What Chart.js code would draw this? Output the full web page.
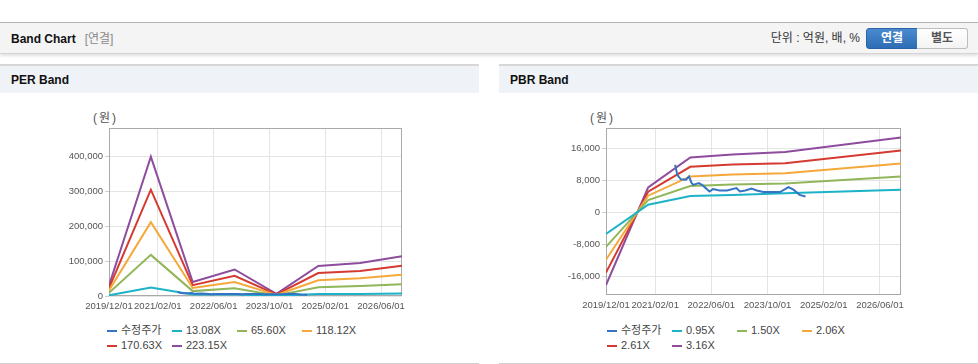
<!DOCTYPE html>
<html lang="ko">
<head>
<meta charset="utf-8">
<title>Band Chart</title>
<script src="https://cdn.jsdelivr.net/npm/chart.js@4.4.1/dist/chart.umd.min.js"></script>
<style>
  html, body { margin: 0; padding: 0; background: #fff; }
  body { width: 978px; height: 364px; position: relative; overflow: hidden;
         font-family: "Liberation Sans", "Noto Sans CJK KR", sans-serif; color: #333; }
  .top { position: absolute; left: 0; top: 22px; width: 978px; height: 30px; background: #f4f4f4;
         border-top: 1px solid #b4b4b4; border-bottom: 1px solid #d4d4d4; box-shadow: 0 2px 3px rgba(0,0,0,0.12); }
  .top .title { position: absolute; left: 11px; top: 1px; line-height: 30px; font-size: 12px; font-weight: bold; color: #111; }
  .top .title span { color: #8a8a8a; font-weight: normal; margin-left: 9px; }
  .top .unit { position: absolute; right: 118px; top: 0; line-height: 30px; font-size: 12px; color: #333; }
  .btn { position: absolute; top: 5px; width: 50px; height: 19px; line-height: 19px; text-align: center;
         font-size: 12px; font-weight: bold; box-sizing: content-box; }
  .btn.on { left: 866px; background: linear-gradient(#4a8ad0, #2d6db5); border: 1px solid #2a62a6;
            color: #fff; border-radius: 3px 0 0 3px; }
  .btn.off { left: 917px; background: linear-gradient(#fff, #f3f3f3); border: 1px solid #bdbdbd; border-left: none;
             color: #555; border-radius: 0 3px 3px 0; }
  .panel { position: absolute; top: 64px; width: 479px; height: 297px;
           border-top: 2px solid #d6d6d6; border-bottom: 1px solid #d0d0d0; }
  .panel .head { height: 27px; line-height: 29px; background: #eff2f6; padding-left: 11px;
                 font-size: 12px; font-weight: bold; color: #111; }
  .ylab { position: absolute; top: 111px; font-size: 12px; line-height: 14px; color: #555; letter-spacing: 2px; }
  .box { position: absolute; top: 100px; width: 479px; height: 215px; }
  .legend { position: absolute; top: 323px; width: 270px; font-size: 11px; line-height: 15px; color: #444; }
  .legend div { display: inline-block; width: 65px; white-space: nowrap; }
  .legend i { display: inline-block; width: 10px; height: 2px; margin-right: 4px; vertical-align: middle; }
</style>
</head>
<body>
<div class="top">
  <div class="title">Band Chart<span>[연결]</span></div>
  <div class="unit">단위 : 억원, 배, %</div>
  <div class="btn on">연결</div>
  <div class="btn off">별도</div>
</div>

<div class="panel" style="left:0"><div class="head">PER Band</div></div>
<div class="panel" style="left:499px"><div class="head">PBR Band</div></div>

<div class="ylab" style="left:93px">(원)</div>
<div class="ylab" style="left:590px">(원)</div>

<div class="box" style="left:0"><canvas id="per" width="479" height="215"></canvas></div>
<div class="box" style="left:499px"><canvas id="pbr" width="479" height="215"></canvas></div>

<div class="legend" id="perLegend" style="left:107px"></div>
<div class="legend" id="pbrLegend" style="left:607px"></div>

<script>
// x axis: months counted from 2019/12
const xTickLabels = ['2019/12/01', '2021/02/01', '2022/06/01', '2023/10/01', '2025/02/01', '2026/06/01'];
const xStart = '2019/12/01';
const xEnd = '2026/12/01';

// 수정주가 (adjusted price)
const priceDates = ['2021/07/22', '2021/08/10', '2021/09/10', '2021/10/25', '2021/11/20', '2021/12/10',
  '2021/12/25', '2022/02/15', '2022/03/20', '2022/05/15', '2022/06/15', '2022/08/10', '2022/10/15',
  '2023/01/05', '2023/02/05', '2023/03/20', '2023/05/15', '2023/06/28', '2023/08/25', '2024/01/18',
  '2024/03/30', '2024/05/12', '2024/07/05', '2024/08/25'];
const priceValues = [11800, 9300, 8200, 8100, 8900, 7400, 6800, 7250, 6600, 5150, 5750, 5400, 5400,
  6000, 5150, 5400, 5900, 5400, 5000, 5000, 6250, 5600, 4300, 3900];

// PER band
const perLabels = ['13.08X', '65.60X', '118.12X', '170.63X', '223.15X'];
const perDates = ['2019/12/01', '2020/12/01', '2021/12/01', '2022/12/01', '2023/12/01', '2024/12/01', '2025/12/01', '2026/12/01'];
const per1308 = [2000, 24000, 4000, 4500, 400, 6000, 6000, 7000];
const per6560 = [9000, 118000, 14000, 22000, 1800, 25000, 29000, 34000];
const per11812 = [16000, 212000, 23000, 40000, 3200, 45000, 51000, 61000];
const per17063 = [23000, 305000, 31000, 58000, 4500, 66000, 72000, 87000];
const per22315 = [30000, 400000, 40000, 76000, 6000, 86000, 95000, 114000];
const perTicks = [0, 100000, 200000, 300000, 400000];

// PBR band
const pbrLabels = ['0.95X', '1.50X', '2.06X', '2.61X', '3.16X'];
const pbrDates = ['2019/12/01', '2020/12/01', '2021/12/01', '2022/12/01', '2024/03/01', '2026/12/01'];
const pbr095 = [-5450, 1850, 4000, 4300, 4700, 5600];
const pbr150 = [-8700, 3000, 6500, 6900, 7150, 8900];
const pbr206 = [-11900, 4100, 8900, 9400, 9700, 12150];
const pbr261 = [-15100, 5100, 11300, 11900, 12200, 15400];
const pbr316 = [-18200, 6150, 13650, 14400, 15000, 18650];
const pbrTicks = [-16000, -8000, 0, 8000, 16000];

const colors = ['#3574c4', '#1cb2c8', '#91b65a', '#f5a83a', '#d43a30', '#8d4c9d'];
const gridColor = '#e4e4e4';

function month(d) {
  const [y, m, day] = d.split('/').map(Number);
  return (y - 2019) * 12 + (m - 12) + (day - 1) / 30;
}
function pts(dates, values) {
  return dates.map((d, i) => ({ x: month(d), y: values[i] }));
}

const plotFrame = {
  id: 'plotFrame',
  beforeDatasetsDraw(chart) {
    const { ctx, chartArea: a } = chart;
    ctx.save();
    ctx.strokeStyle = '#a9a9a9';
    ctx.lineWidth = 1;
    ctx.strokeRect(a.left + 0.5, a.top + 0.5, a.right - a.left - 1, a.bottom - a.top - 1);
    ctx.restore();
  }
};

function bandChart(id, series, labels, yTicks, yMin, yMax, yWidth, xHeight) {
  const names = ['수정주가'].concat(labels);
  const datasets = series.map((s, i) => ({
    label: names[i], data: s, borderColor: colors[i], backgroundColor: colors[i],
    borderWidth: 2, pointRadius: 0, pointHoverRadius: 0, tension: 0, fill: false
  }));
  const xPos = xTickLabels.map(month);
  const tickFont = { family: '"Liberation Sans", sans-serif', size: 9.5 };
  return new Chart(document.getElementById(id), {
    type: 'line',
    data: { datasets },
    options: {
      responsive: false,
      animation: false,
      devicePixelRatio: 1,
      layout: { padding: { top: 28, right: 77, left: 0, bottom: 0 } },
      plugins: { legend: { display: false }, tooltip: { enabled: false } },
      scales: {
        x: {
          type: 'linear', min: month(xStart), max: month(xEnd),
          afterBuildTicks: s => { s.ticks = xPos.map(v => ({ value: v })); },
          afterFit: s => { s.height = xHeight; },
          grid: { color: gridColor, drawTicks: false },
          border: { display: false },
          ticks: { autoSkip: false, maxRotation: 0, padding: 5, color: '#555', font: tickFont,
                   callback: (v, i) => xTickLabels[i] }
        },
        y: {
          min: yMin, max: yMax,
          afterBuildTicks: s => { s.ticks = yTicks.map(v => ({ value: v })); },
          afterFit: s => { s.width = yWidth; },
          grid: { color: gridColor, tickLength: 4, tickColor: '#cfcfcf' },
          border: { display: false },
          ticks: { padding: 2, color: '#555', font: tickFont,
                   callback: v => v.toLocaleString('en-US') }
        }
      }
    },
    plugins: [plotFrame]
  });
}

function legend(id, chart) {
  const el = document.getElementById(id);
  chart.data.datasets.forEach(ds => {
    const item = document.createElement('div');
    item.innerHTML = '<i style="background:' + ds.borderColor + '"></i>' + ds.label;
    el.appendChild(item);
  });
}

const price = pts(priceDates, priceValues);

const perChart = bandChart('per',
  [price, pts(perDates, per1308), pts(perDates, per6560), pts(perDates, per11812), pts(perDates, per17063), pts(perDates, per22315)],
  perLabels, perTicks, 0, 482000, 109, 19);

const pbrChart = bandChart('pbr',
  [price, pts(pbrDates, pbr095), pts(pbrDates, pbr150), pts(pbrDates, pbr206), pts(pbrDates, pbr261), pts(pbrDates, pbr316)],
  pbrLabels, pbrTicks, -20700, 21000, 107, 20);

legend('perLegend', perChart);
legend('pbrLegend', pbrChart);
</script>
</body>
</html>
